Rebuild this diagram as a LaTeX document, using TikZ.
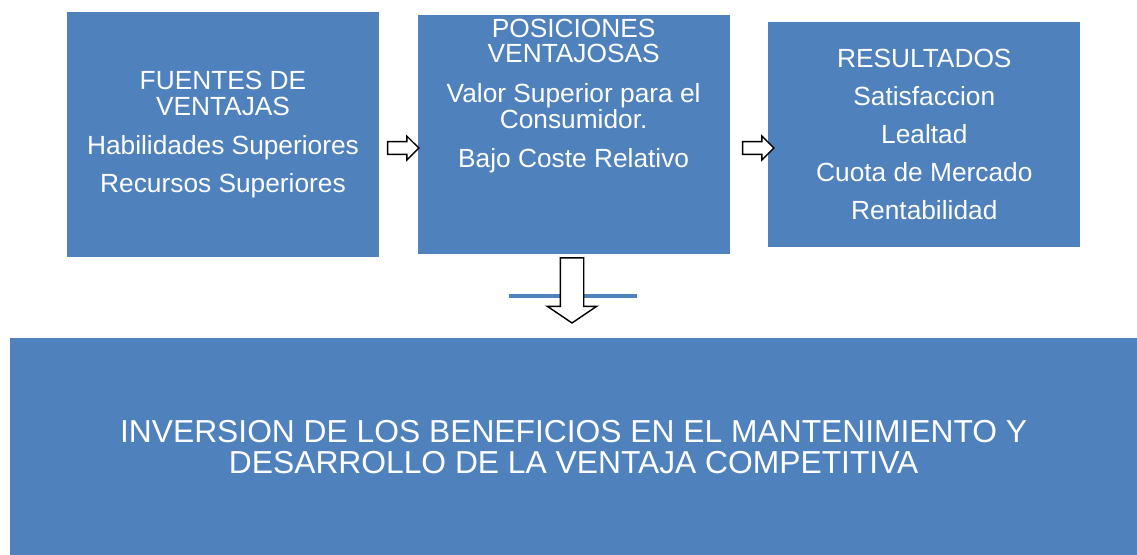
\documentclass[tikz,border=0pt]{standalone}
\usepackage{fontspec}
\setmainfont{Liberation Sans}
\usepackage{xcolor}
\usetikzlibrary{arrows.meta, positioning, shapes.arrows}

\definecolor{boxblue}{HTML}{4F81BD}

\begin{document}
\begin{tikzpicture}[
        x=0.025cm, y=-0.025cm,
        panel/.style={
            rectangle,
            fill=boxblue,
            text=white,
            inner sep=0pt,
            minimum width=7.8cm,
            align=center,
            font=\fontsize{18.7}{18.4}\selectfont
        },
        paneltext/.style={
            text=white,
            inner sep=0pt,
            align=center,
            font=\fontsize{18.7}{18.4}\selectfont
        },
        blockarrow/.style={
            single arrow,
            draw=black,
            fill=white,
            line width=1pt,
            inner sep=0pt,
            text height=0.14cm,
            text depth=0.14cm,
            single arrow head extend=0.14cm,
            minimum height=0.78cm
        },
        node distance=2.1cm and 0.95cm
    ]

    \useasboundingbox (0,0) rectangle (1137,554);

    % Boxes
    \node[panel, minimum height=6.125cm] (fuentes) at (223,134.5)
        {FUENTES DE\\VENTAJAS\\[9pt]Habilidades Superiores\\[8.5pt]Recursos Superiores};
    \node[panel, minimum height=5.95cm, right=of fuentes] (posiciones) {};
    \node[paneltext, below=0.08cm of posiciones.north] (posicionestxt)
        {POSICIONES\\VENTAJOSAS\\[10pt]Valor Superior para el\\Consumidor.\\[9pt]Bajo Coste Relativo};
    \node[panel, minimum height=5.625cm, right=of posiciones] (resultados)
        {RESULTADOS\\[8.5pt]Satisfaccion\\[8.5pt]Lealtad\\[8.5pt]Cuota de Mercado\\[8.5pt]Rentabilidad};
    \node[panel, minimum width=28.175cm, minimum height=5.425cm, below=of posiciones,
          font=\fontsize{22.6}{22}\selectfont] (inversion)
        {INVERSION DE LOS BENEFICIOS EN EL MANTENIMIENTO Y\\DESARROLLO DE LA VENTAJA COMPETITIVA};

    % Line under the boxes
    \coordinate (barl) at (509,296);
    \coordinate (barr) at (637,296);
    \draw[boxblue, line width=3pt] (barl) -- (barr);

    % Block arrows
    \node[blockarrow] (arrowa) at (400,148) {};
    \node[blockarrow] (arrowb) at (755,148) {};
    \node[blockarrow, rotate=-90,
          text height=0.275cm, text depth=0.275cm,
          single arrow head extend=0.325cm, single arrow tip angle=112,
          minimum height=1.625cm] (arrowc) at (572,286.5) {};

\end{tikzpicture}
\end{document}
